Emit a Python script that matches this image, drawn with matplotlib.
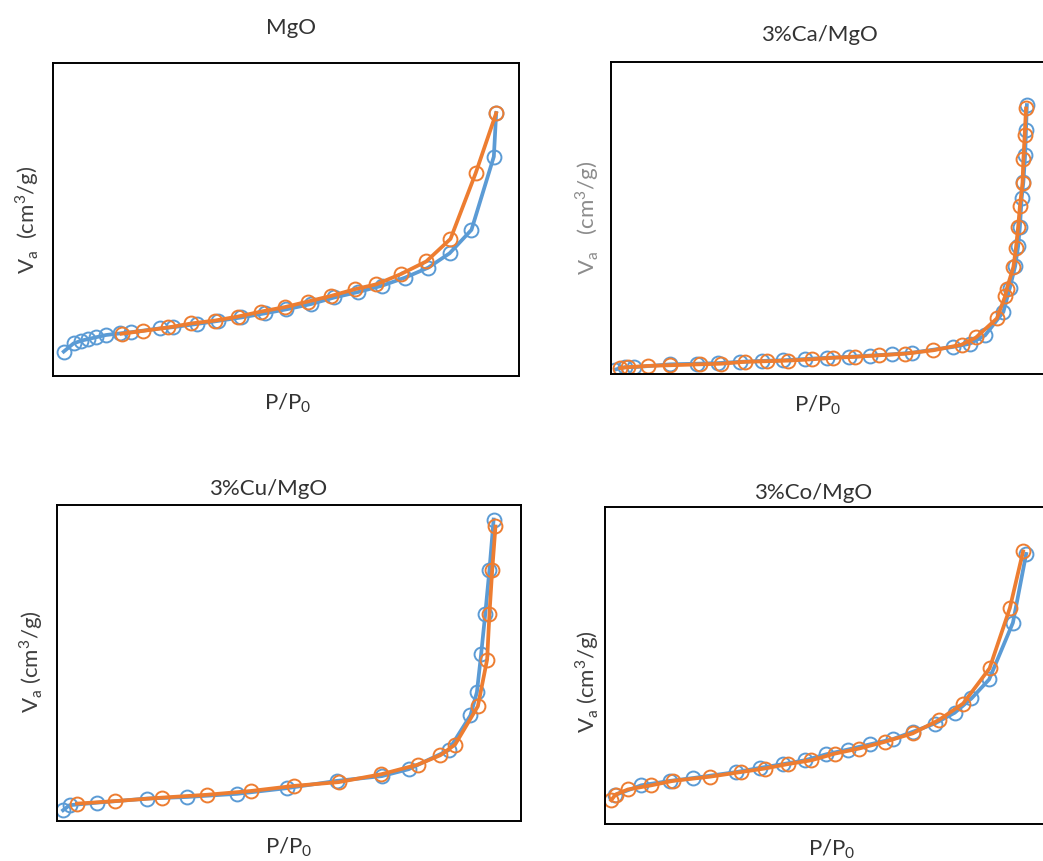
import matplotlib.pyplot as plt

plt.rcParams['font.family'] = ['Lato', 'DejaVu Sans']
plt.rcParams['mathtext.fontset'] = 'custom'
plt.rcParams['mathtext.rm'] = 'Lato'

# values (no axis scale shown, so relative units 0..1)
mgo_ads_x = [0.023, 0.044, 0.061, 0.075, 0.093, 0.114, 0.143, 0.168, 0.229, 0.258, 0.308, 0.354, 0.404,
             0.454, 0.501, 0.554, 0.604, 0.654, 0.705, 0.755, 0.805, 0.851, 0.898, 0.946, 0.951]
mgo_ads_y = [0.078, 0.104, 0.113, 0.118, 0.124, 0.131, 0.136, 0.140, 0.152, 0.156, 0.166, 0.176, 0.187,
             0.200, 0.213, 0.230, 0.251, 0.268, 0.288, 0.314, 0.346, 0.392, 0.467, 0.701, 0.840]
mgo_des_x = [0.951, 0.907, 0.853, 0.801, 0.747, 0.694, 0.647, 0.597, 0.547, 0.497, 0.447, 0.397, 0.347,
             0.297, 0.247, 0.193, 0.147]
mgo_des_y = [0.840, 0.648, 0.438, 0.366, 0.326, 0.293, 0.277, 0.256, 0.238, 0.220, 0.206, 0.190, 0.177,
             0.168, 0.155, 0.144, 0.135]

ca_ads_x = [0.009, 0.032, 0.054, 0.136, 0.197, 0.247, 0.297, 0.346, 0.396, 0.446, 0.496, 0.546, 0.595,
            0.645, 0.691, 0.787, 0.825, 0.860, 0.902, 0.917, 0.929, 0.936, 0.940, 0.944, 0.948, 0.952,
            0.954, 0.956]
ca_ads_y = [0.014, 0.022, 0.022, 0.031, 0.033, 0.035, 0.039, 0.042, 0.044, 0.048, 0.052, 0.055, 0.059,
            0.063, 0.068, 0.087, 0.097, 0.124, 0.199, 0.277, 0.345, 0.410, 0.472, 0.563, 0.616, 0.702,
            0.782, 0.862]
ca_des_x = [0.954, 0.951, 0.948, 0.946, 0.940, 0.936, 0.931, 0.925, 0.910, 0.906, 0.887, 0.839, 0.806,
            0.741, 0.676, 0.617, 0.561, 0.511, 0.461, 0.408, 0.358, 0.308, 0.254, 0.205, 0.136, 0.086,
            0.040, 0.021]
ca_des_y = [0.851, 0.766, 0.688, 0.613, 0.538, 0.472, 0.405, 0.343, 0.274, 0.249, 0.178, 0.117, 0.094,
            0.076, 0.065, 0.060, 0.055, 0.052, 0.047, 0.043, 0.041, 0.039, 0.033, 0.031, 0.028, 0.026,
            0.022, 0.019]

cu_ads_x = [0.013, 0.027, 0.086, 0.194, 0.280, 0.388, 0.496, 0.603, 0.700, 0.758, 0.844, 0.891, 0.905,
            0.914, 0.923, 0.932, 0.941]
cu_ads_y = [0.034, 0.050, 0.058, 0.071, 0.076, 0.086, 0.104, 0.127, 0.142, 0.164, 0.224, 0.334, 0.408,
            0.527, 0.656, 0.795, 0.954]
cu_des_x = [0.945, 0.938, 0.932, 0.927, 0.907, 0.858, 0.826, 0.777, 0.699, 0.607, 0.510, 0.418, 0.323,
            0.226, 0.126, 0.043]
cu_des_y = [0.932, 0.795, 0.656, 0.511, 0.363, 0.242, 0.208, 0.178, 0.148, 0.123, 0.111, 0.095, 0.083,
            0.074, 0.063, 0.055]

co_ads_x = [0.022, 0.082, 0.147, 0.200, 0.298, 0.351, 0.404, 0.453, 0.502, 0.551, 0.600, 0.653, 0.698,
            0.748, 0.793, 0.831, 0.871, 0.925, 0.955]
co_ads_y = [0.091, 0.122, 0.136, 0.145, 0.164, 0.177, 0.189, 0.201, 0.220, 0.235, 0.251, 0.268, 0.291,
            0.317, 0.351, 0.396, 0.456, 0.635, 0.852]
co_des_x = [0.948, 0.918, 0.872, 0.812, 0.757, 0.698, 0.634, 0.576, 0.521, 0.468, 0.415, 0.362, 0.309,
            0.237, 0.154, 0.105, 0.052, 0.024, 0.014]
co_des_y = [0.860, 0.681, 0.491, 0.380, 0.328, 0.286, 0.259, 0.238, 0.222, 0.201, 0.189, 0.175, 0.164,
            0.149, 0.136, 0.122, 0.109, 0.093, 0.075]

titles = ['MgO', '3%Ca/MgO', '3%Cu/MgO', '3%Co/MgO']
ylabels = [r'V$_\mathregular{a}$  (cm$^\mathregular{3}$/g)',
           r'V$_\mathregular{a}$   (cm$^\mathregular{3}$/g)',
           r'V$_\mathregular{a}$ (cm$^\mathregular{3}$/g)',
           r'V$_\mathregular{a}$ (cm$^\mathregular{3}$/g)']

W, H = 1043, 861
fig = plt.figure(figsize=(W / 100, H / 100), dpi=100)


def box(l, t, r, b):
    return [l / W, 1 - b / H, (r - l) / W, (b - t) / H]


def px(x, y):
    return x / W, 1 - y / H


panels = [
    # axes box, title pos, ylabel pos, xlabel pos, ylabel colour, data
    (box(53, 63, 519, 376), (291, 28), (27, 220), (288, 403), '#404040',
     (mgo_ads_x, mgo_ads_y, mgo_des_x, mgo_des_y)),
    (box(611, 62, 1046, 374), (819, 35), (587, 218), (818, 405), '#8c8c8c',
     (ca_ads_x, ca_ads_y, ca_des_x, ca_des_y)),
    (box(57, 505, 521, 821), (268, 489), (31, 662), (289, 847), '#404040',
     (cu_ads_x, cu_ads_y, cu_des_x, cu_des_y)),
    (box(605, 507, 1046, 824), (813, 493), (587, 682), (832, 849), '#404040',
     (co_ads_x, co_ads_y, co_des_x, co_des_y)),
]

blue = '#5b9bd5'
orange = '#ed7d31'

for i, (rect, tpos, ypos, xpos, ycol, data) in enumerate(panels):
    ax = fig.add_axes(rect)
    ax_x, ax_y, de_x, de_y = data
    ax.plot(ax_x, ax_y, color=blue, lw=2.7, marker='o', ms=10, mfc='none', mec=blue, mew=1.4)
    ax.plot(de_x, de_y, color=orange, lw=2.7, marker='o', ms=10, mfc='none', mec=orange, mew=1.4)
    ax.set_xlim(0, 1)
    ax.set_ylim(0, 1)
    ax.set_xticks([])
    ax.set_yticks([])
    for s in ax.spines.values():
        s.set_linewidth(1.4)
        s.set_color('black')

    fig.text(*px(*tpos), titles[i], ha='center', va='center', fontsize=16, color='#333333')
    fig.text(*px(*xpos), r'P/P$_\mathregular{0}$', ha='center', va='center', fontsize=16, color='#333333')
    fig.text(*px(*ypos), ylabels[i], ha='center', va='center', rotation=90, fontsize=16, color=ycol)

fig.savefig('out.png', dpi=100)
